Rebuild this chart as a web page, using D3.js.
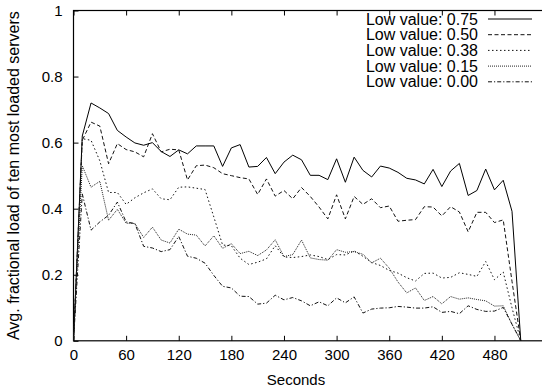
<!DOCTYPE html>
<html>
<head>
<meta charset="utf-8">
<script src="https://cdn.jsdelivr.net/npm/d3@7"></script>
<style>
  html, body { margin: 0; padding: 0; background: #fff; }
  svg { display: block; }
  text { font-family: "Liberation Sans", Arial, Helvetica, sans-serif; fill: #000; }
</style>
</head>
<body>
<svg id="chart" width="542" height="392"></svg>
<script>
const seconds = [0,10,20,30,40,50,60,70,80,90,100,110,120,130,140,150,160,170,180,190,200,210,220,230,240,250,260,270,280,290,300,310,320,330,340,350,360,370,380,390,400,410,420,430,440,450,460,470,480,490,500,510];

const low075 = [0,0.62,0.72,0.705,0.688,0.637,0.617,0.599,0.592,0.60,0.573,0.558,0.578,0.566,0.59,0.59,0.59,0.528,0.584,0.594,0.526,0.528,0.555,0.506,0.541,0.562,0.548,0.501,0.501,0.488,0.551,0.48,0.556,0.516,0.496,0.529,0.523,0.51,0.492,0.487,0.475,0.519,0.467,0.514,0.537,0.44,0.455,0.52,0.457,0.486,0.392,0];
const low050 = [0,0.607,0.662,0.65,0.536,0.597,0.579,0.572,0.557,0.627,0.572,0.58,0.578,0.487,0.53,0.532,0.524,0.506,0.50,0.494,0.49,0.443,0.49,0.438,0.455,0.43,0.464,0.437,0.405,0.369,0.442,0.369,0.437,0.413,0.43,0.403,0.408,0.362,0.365,0.367,0.406,0.405,0.378,0.406,0.39,0.33,0.389,0.389,0.358,0.366,0.18,0];
const low038 = [0,0.612,0.607,0.545,0.449,0.449,0.413,0.433,0.448,0.46,0.43,0.427,0.465,0.466,0.462,0.458,0.375,0.29,0.288,0.25,0.231,0.238,0.248,0.288,0.254,0.252,0.255,0.26,0.255,0.246,0.261,0.26,0.272,0.256,0.237,0.228,0.213,0.205,0.191,0.181,0.204,0.205,0.19,0.192,0.206,0.201,0.195,0.24,0.185,0.208,0.1,0];
const low015 = [0,0.53,0.465,0.483,0.365,0.398,0.356,0.355,0.313,0.344,0.305,0.296,0.338,0.323,0.32,0.287,0.318,0.28,0.294,0.264,0.271,0.258,0.275,0.306,0.255,0.261,0.305,0.251,0.246,0.244,0.276,0.268,0.27,0.262,0.236,0.25,0.22,0.178,0.145,0.16,0.122,0.134,0.112,0.134,0.126,0.13,0.125,0.121,0.105,0.106,0.05,0];
const low000 = [0,0.445,0.335,0.36,0.38,0.42,0.36,0.355,0.286,0.281,0.27,0.276,0.316,0.256,0.25,0.235,0.198,0.165,0.16,0.135,0.134,0.111,0.114,0.138,0.124,0.131,0.121,0.106,0.118,0.106,0.13,0.115,0.133,0.084,0.096,0.099,0.1,0.104,0.102,0.099,0.099,0.103,0.086,0.089,0.082,0.106,0.095,0.089,0.09,0.101,0.05,0];

const seriesNames = ["Low value: 0.75","Low value: 0.50","Low value: 0.38","Low value: 0.15","Low value: 0.00"];
const xTickValues = [0,60,120,180,240,300,360,420,480];
const yTickValues = [0,0.2,0.4,0.6,0.8,1];
const xTitle = "Seconds";
const yTitle = "Avg. fractional load of ten most loaded servers";

const seriesValues = [low075, low050, low038, low015, low000];
const dashes = [null, "4,2.5", "1.5,2.5", "1,1", "4,2,1.2,2"];
const strokes = ["#000", "#111", "#111", "#222", "#111"];

const L = 73.5, T = 10.5, B = 340.8, R = 560;
const svg = d3.select("#chart");
const x = d3.scaleLinear().domain([0, 480]).range([L, L + 480 * 0.877]);
const y = d3.scaleLinear().domain([0, 1]).range([B, T]);

const fontSize = 15;
const bigFont = 16;

// bottom axis
const gx = svg.append("g").attr("transform", `translate(0,${B})`)
  .call(d3.axisBottom(x).tickValues(xTickValues).tickSizeInner(-5).tickSizeOuter(0).tickPadding(9).tickFormat(d3.format("d")));
gx.select(".domain").remove();
gx.selectAll("text").style("font-size", fontSize + "px").attr("font-family", null);

// top mirror ticks
const gxt = svg.append("g").attr("transform", `translate(0,${T})`)
  .call(d3.axisTop(x).tickValues(xTickValues).tickSizeInner(-5).tickSizeOuter(0).tickFormat(""));
gxt.select(".domain").remove();

// left axis
const gy = svg.append("g").attr("transform", `translate(${L},0)`)
  .call(d3.axisLeft(y).tickValues(yTickValues).tickSizeInner(-5).tickSizeOuter(0).tickPadding(11).tickFormat(d => d === 0 || d === 1 ? d3.format("d")(d) : d3.format(".1f")(d)));
gy.select(".domain").remove();
gy.selectAll("text").style("font-size", fontSize + "px").attr("font-family", null);

// border (right side lies beyond the picture)
svg.append("rect").attr("x", L).attr("y", T).attr("width", R - L).attr("height", B - T)
  .attr("fill", "none").attr("stroke", "#000").attr("stroke-width", 1.2);

// lines
const line = d3.line().x((d, i) => x(seconds[i])).y(d => y(d));
seriesValues.forEach((vals, k) => {
  svg.append("path").datum(vals)
    .attr("d", line)
    .attr("fill", "none")
    .attr("stroke", strokes[k])
    .attr("stroke-width", 1)
    .attr("stroke-dasharray", dashes[k]);
});

// legend
const legY0 = 19, legDy = 15.7;
seriesNames.forEach((name, k) => {
  const cy = legY0 + k * legDy;
  svg.append("text").attr("x", 478).attr("y", cy + 5.5)
    .attr("text-anchor", "end").style("font-size", bigFont + "px").text(name);
  svg.append("line").attr("x1", 488).attr("x2", 532).attr("y1", cy).attr("y2", cy)
    .attr("stroke", strokes[k]).attr("stroke-width", 1).attr("stroke-dasharray", dashes[k]);
});

// axis titles
svg.append("text").attr("x", 296).attr("y", 385)
  .attr("text-anchor", "middle").style("font-size", fontSize + "px").text(xTitle);
svg.append("text").attr("transform", `translate(19,${(T + B) / 2}) rotate(-90)`)
  .attr("text-anchor", "middle").style("font-size", bigFont + "px").text(yTitle);
</script>
</body>
</html>
